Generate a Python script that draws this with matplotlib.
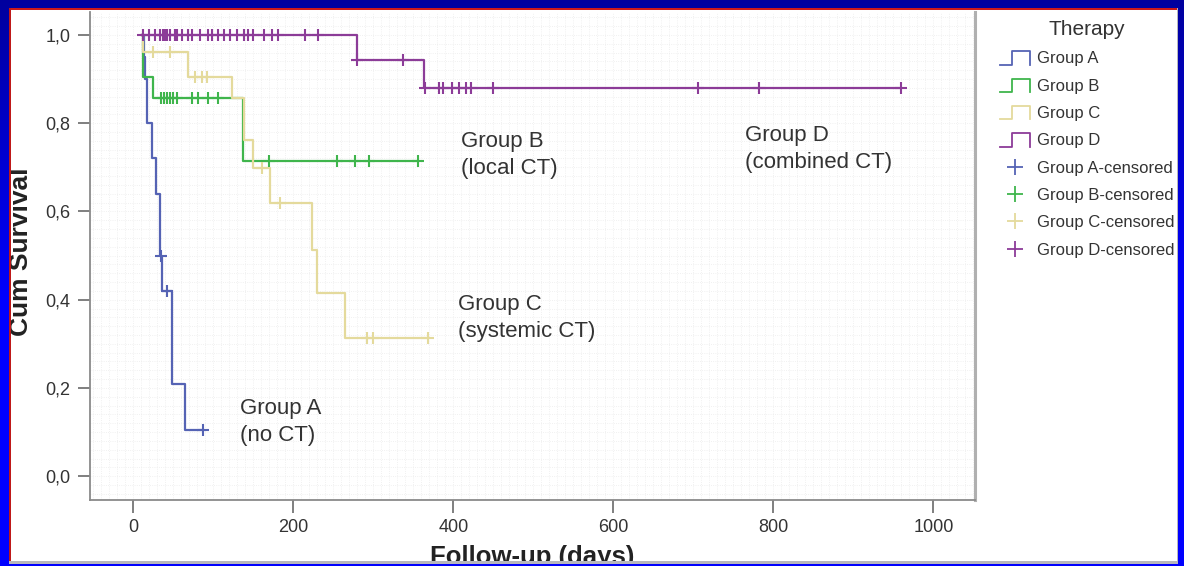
import numpy as np
import matplotlib
matplotlib.use("Agg")
import matplotlib.pyplot as plt
from matplotlib.lines import Line2D
from matplotlib.legend_handler import HandlerBase

plt.rcParams['font.family'] = ['Liberation Sans', 'DejaVu Sans']

# Kaplan-Meier curves (days, cumulative survival)
a_days = [11, 13, 15, 17, 24, 28, 34, 36, 49, 65, 87]
a_surv = [1.0, 0.95, 0.90, 0.80, 0.72, 0.64, 0.50, 0.42, 0.21, 0.104, 0.104]
a_cens_days = [35, 42, 87]
a_cens_surv = [0.50, 0.42, 0.104]

b_days = [11, 12, 25, 137, 356]
b_surv = [1.0, 0.905, 0.857, 0.714, 0.714]
b_cens_days = [35, 38, 42, 46, 50, 55, 74, 81, 94, 106, 170, 255, 277, 295, 356]
b_cens_surv = [0.857] * 10 + [0.714] * 5

c_days = [11, 12, 69, 124, 138, 150, 171, 224, 230, 265, 369]
c_surv = [1.0, 0.961, 0.905, 0.857, 0.762, 0.698, 0.619, 0.512, 0.415, 0.313, 0.313]
c_cens_days = [25, 46, 77, 86, 92, 161, 184, 292, 300, 369]
c_cens_surv = [0.961, 0.961, 0.905, 0.905, 0.905, 0.698, 0.619, 0.313, 0.313, 0.313]

d_days = [11, 280, 363, 959]
d_surv = [1.0, 0.944, 0.88, 0.88]
d_cens_days = [12, 20, 27, 34, 37, 40, 42, 46, 52, 55, 61, 68, 74, 84, 94, 99,
               106, 113, 121, 130, 139, 144, 150, 163, 174, 181, 215, 231,
               280, 337,
               365, 382, 387, 399, 407, 416, 422, 450, 706, 782, 959]
d_cens_surv = [1.0] * 28 + [0.944] * 2 + [0.88] * 11

groups = ['Group A', 'Group B', 'Group C', 'Group D']
colors = ['#5563b4', '#3fb54c', '#e4da9c', '#8c3c98']

notes = ['Group A\n(no CT)', 'Group B\n(local CT)', 'Group C\n(systemic CT)', 'Group D\n(combined CT)']
note_x = [134, 410, 406, 765]
note_y = [0.177, 0.782, 0.412, 0.795]


class StepHandler(HandlerBase):
    # legend handle drawn as a small step: _|~|
    def create_artists(self, legend, orig_handle, xdescent, ydescent,
                       width, height, fontsize, trans):
        x0, y0 = -xdescent, -ydescent - 1
        h = height * 1.15
        xs = [x0, x0 + 0.4 * width, x0 + 0.4 * width, x0 + width, x0 + width]
        ys = [y0, y0, y0 + h, y0 + h, y0]
        line = Line2D(xs, ys, color=orig_handle.get_color(), lw=1.3)
        line.set_transform(trans)
        return [line]


W, H = 1184, 566
fig = plt.figure(figsize=(W / 100, H / 100), dpi=100)
fig.patch.set_facecolor('white')

ax = fig.add_axes([90 / W, 1 - 500 / H, (975 - 90) / W, (500 - 12) / H])

series = [(a_days, a_surv, a_cens_days, a_cens_surv),
          (b_days, b_surv, b_cens_days, b_cens_surv),
          (c_days, c_surv, c_cens_days, c_cens_surv),
          (d_days, d_surv, d_cens_days, d_cens_surv)]
for (t, s, ct, cs), col in zip(series, colors):
    ax.step(t, s, where='post', color=col, lw=1.6, zorder=3)
    ax.plot(ct, cs, '+', color=col, ms=9, mew=1.5, zorder=4)

for txt, x, y in zip(notes, note_x, note_y):
    ax.text(x, y, txt, ha='left', va='top', fontsize=16, color='#333333', linespacing=1.35)

ax.set_xlim(-54, 1052)
ax.set_ylim(-0.054, 1.052)
ax.set_xticks([0, 200, 400, 600, 800, 1000])
ax.set_yticks([0, 0.2, 0.4, 0.6, 0.8, 1.0])
ax.set_yticklabels(['0,0', '0,2', '0,4', '0,6', '0,8', '1,0'])
ax.set_xticks(np.arange(-50, 1051, 10), minor=True)
ax.set_yticks(np.arange(-0.04, 1.05, 0.02), minor=True)
ax.tick_params(which='major', direction='out', length=9, width=1.2, color='#6a6a6a',
               labelsize=13, labelcolor='#333333', pad=5)
ax.tick_params(which='minor', length=0)
ax.grid(which='both', color='#ececec', lw=0.6, ls=':')
ax.set_axisbelow(True)
ax.spines['top'].set_visible(False)
for side in ['left', 'bottom', 'right']:
    ax.spines[side].set_color('#8a8a8a')
    ax.spines[side].set_linewidth(1.3)
ax.spines['right'].set_color('#b0b0b0')
ax.spines['right'].set_linewidth(2.2)

fig.text(21 / W, 1 - 252 / H, 'Cum Survival', rotation=90, ha='center', va='center',
         fontsize=19, fontweight='bold', color='#222222')
fig.text(532 / W, 1 - 545 / H, 'Follow-up (days)', ha='center', va='top',
         fontsize=18.5, fontweight='bold', color='#222222')

# legend
step_handles = [Line2D([], [], color=c, lw=1.3) for c in colors]
cens_handles = [Line2D([], [], color=c, marker='+', ls='none', ms=11, mew=1.3) for c in colors]
labels = groups + [g + '-censored' for g in groups]
leg = fig.legend(step_handles + cens_handles, labels,
                 handler_map={h: StepHandler() for h in step_handles},
                 title='Therapy', loc='upper left',
                 bbox_to_anchor=(1000 / W, 1 - 20 / H), frameon=False,
                 fontsize=12, title_fontsize=15, labelspacing=0.74,
                 handlelength=1.8, handletextpad=0.4, borderpad=0, borderaxespad=0)
for t in leg.get_texts():
    t.set_color('#333333')
leg.get_title().set_color('#333333')

# blue slide frame drawn on top of everything
frame = np.zeros((H, W, 4))
blue = np.clip(0.62 + np.arange(H) / 300 * 0.38, 0, 1)
border = np.zeros((H, W), dtype=bool)
border[:8, :] = True
border[:, :9] = True
border[:, 1178:] = True
border[564:, :] = True
frame[border, 2] = np.broadcast_to(blue[:, None], (H, W))[border]
frame[border, 3] = 1
frame[8:10, 9:1178, :] = [0.8, 0.1, 0.1, 1]
frame[8:562, 9:11, :] = [0.75, 0.1, 0.1, 1]
frame[561:564, 9:1178, :] = [0.72, 0.72, 0.74, 1]
frame[8:564, 1177, :] = [0.72, 0.72, 0.74, 1]
fax = fig.add_axes([0, 0, 1, 1], zorder=30)
fax.imshow(frame, extent=[0, W, H, 0], interpolation='nearest', aspect='auto')
fax.set_xlim(0, W)
fax.set_ylim(H, 0)
fax.patch.set_alpha(0)
fax.axis('off')

fig.savefig('out.png', dpi=100)
